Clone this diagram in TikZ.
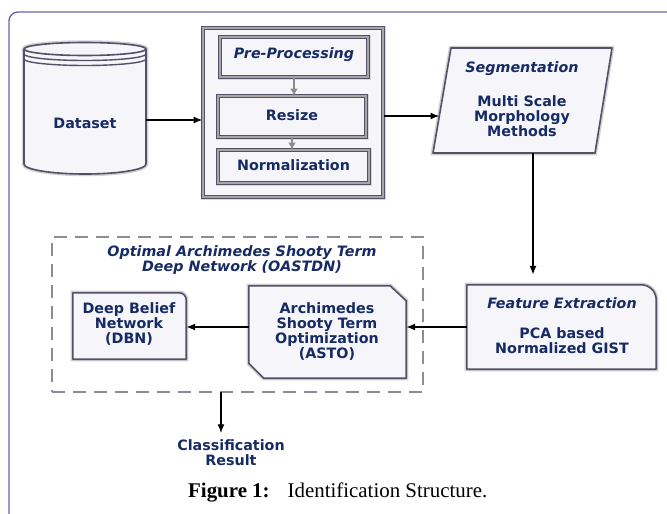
\documentclass[tikz,border=0pt]{standalone}
\usepackage{fontspec}
\setmainfont{Liberation Serif}
\setsansfont{DejaVu Sans}
\usetikzlibrary{arrows.meta,backgrounds}
\definecolor{txt}{RGB}{22,42,100}
\definecolor{bord}{RGB}{85,80,104}
\definecolor{fillc}{RGB}{245,245,250}
\definecolor{framec}{RGB}{108,99,170}
\definecolor{dashc}{RGB}{140,140,150}
\begin{document}
\begin{tikzpicture}[x=1pt,y=-1pt,
  lbl/.style={font=\sffamily\bfseries\fontsize{14.3}{15}\selectfont, text=txt, align=center, inner sep=0pt},
  itl/.style={font=\sffamily\bfseries\itshape\fontsize{14.3}{15}\selectfont, text=txt, align=center, inner sep=0pt},
  arr/.style={-{Latex[length=9pt,width=7pt]}, line width=1.4pt, black},
  garr/.style={-{Latex[length=7pt,width=8pt]}, line width=1.8pt, black!45},
  shp/.style={draw=bord, line width=1.6pt, fill=fillc, line join=round, preaction={draw=black!18, line width=4.5pt}},
  dbl/.style={draw=bord, double=black!35, double distance=1.1pt, line width=1pt, fill=fillc, preaction={draw=black!15, line width=5pt}},
  box/.style={draw=none, inner sep=0pt}
]
\useasboundingbox (0,0) rectangle (667,514);
% outer frame
\draw[framec, line width=1.4pt, rounded corners=9pt] (670,12) -- (9,12) -- (9,520);

% dataset cylinder
\node[box, minimum width=122pt, minimum height=131pt] (ds) at (85,108.5) {};
\path[shp] (24,49) -- (24,164) arc[x radius=61pt, y radius=10pt, start angle=180, end angle=360] -- (146,49) arc[x radius=61pt, y radius=6.5pt, start angle=0, end angle=180] -- cycle;
\draw[bord, line width=1.6pt] (24,49) arc[x radius=61pt, y radius=6.5pt, start angle=180, end angle=360];
\draw[bord, line width=1.4pt] (24,54) arc[x radius=61pt, y radius=6.5pt, start angle=180, end angle=360];
\draw[bord, line width=1.4pt] (24,59) arc[x radius=61pt, y radius=6.5pt, start angle=180, end angle=360];
\node[lbl] (dst) at (85,123) {Dataset};

% pre-processing
\node[dbl, minimum width=180pt, minimum height=169pt] (pp) at (293,112.5) {};
\node[dbl, minimum width=148pt, minimum height=40pt] (pre) at (294,57) {};
\node[itl] (pret) at (294,55) {Pre-Processing};
\node[dbl, minimum width=148pt, minimum height=41pt] (rs) at (292,116.5) {};
\node[lbl] (rst) at (292,115) {Resize};
\node[dbl, minimum width=151pt, minimum height=33pt] (nm) at (293.5,166.5) {};
\node[lbl] (nmt) at (293.5,165) {Normalization};
\draw[garr] (pre.south) -- (pre.south |- rs.north);
\draw[garr] (rs.south) -- (rs.south |- nm.north);

% segmentation
\node[box, minimum width=179pt, minimum height=105pt] (seg) at (522.5,100.5) {};
\begin{scope}[on background layer]
\path[shp] (451,48) -- (612,48) -- (595,153) -- (433,153) -- cycle;
\end{scope}
\node[itl] (segt) at (522,69) {Segmentation};
\node[lbl] (segm) at (522,116) {Multi Scale\\Morphology\\Methods};

% feature extraction
\node[box, minimum width=189pt, minimum height=84pt] (fe) at (561.5,327) {};
\begin{scope}[on background layer]
\path[shp] (fe.south west) -- (fe.north west) -- ([xshift=-15pt]fe.north east) arc[radius=15pt, start angle=90, end angle=0] -- (fe.south east) -- cycle;
\end{scope}
\node[itl] (fet) at (562,303) {Feature Extraction};
\node[lbl] (fem) at (562,341) {PCA based\\Normalized GIST};

% dashed OASTDN box
\node[draw=dashc, line width=2pt, dash pattern=on 13pt off 8pt, minimum width=371pt, minimum height=155pt, inner sep=0pt] (oas) at (237.5,314.5) {};
\node[itl] (oast) at (242,260.5) {Optimal Archimedes Shooty Term\\Deep Network (OASTDN)};

% ASTO
\node[box, minimum width=157pt, minimum height=92pt] (asto) at (327.5,332) {};
\begin{scope}[on background layer]
\path[shp] (asto.north west) -- ([xshift=-16pt]asto.north east) -- ([yshift=-15pt]asto.north east) -- (asto.south east) -- ([xshift=15pt]asto.south west) -- ([yshift=15pt]asto.south west) -- cycle;
\end{scope}
\node[lbl] (astot) at (327,332) {Archimedes\\Shooty Term\\Optimization\\(ASTO)};

% DBN
\node[box, minimum width=113pt, minimum height=66pt] (dbn) at (129.5,326) {};
\begin{scope}[on background layer]
\path[shp] (dbn.south west) -- (dbn.north west) -- ([xshift=-7pt]dbn.north east) arc[radius=7pt, start angle=90, end angle=0] -- (dbn.south east) -- cycle;
\end{scope}
\node[lbl] (dbnt) at (129,324.5) {Deep Belief\\Network\\(DBN)};

% result
\node[lbl] (res) at (231,452.5) {Classification\\Result};

% connectors
\coordinate (dsout) at (146,120);
\draw[arr] (dsout) -- (dsout -| pp.west);
\coordinate (segin) at (439.5,116);
\draw[arr] (pp.east |- segin) -- (segin);
\coordinate (segout) at (533,153);
\draw[arr, shorten >=10pt] (segout) -- (segout |- fe.north);
\draw[arr] (fe.west) -- (fe.west -| asto.east);
\draw[arr] (fe.west -| asto.west) -- (fe.west -| dbn.east);
\coordinate (oasout) at (221,392);
\draw[arr, shorten >=6pt] (oasout) -- (oasout |- res.north);

% caption
\node[anchor=west, inner sep=0pt, font=\fontsize{20.9}{24}\selectfont] (cap) at (188,492) {\textbf{Figure 1:}\hspace{18pt}Identification Structure.};
\end{tikzpicture}
\end{document}
